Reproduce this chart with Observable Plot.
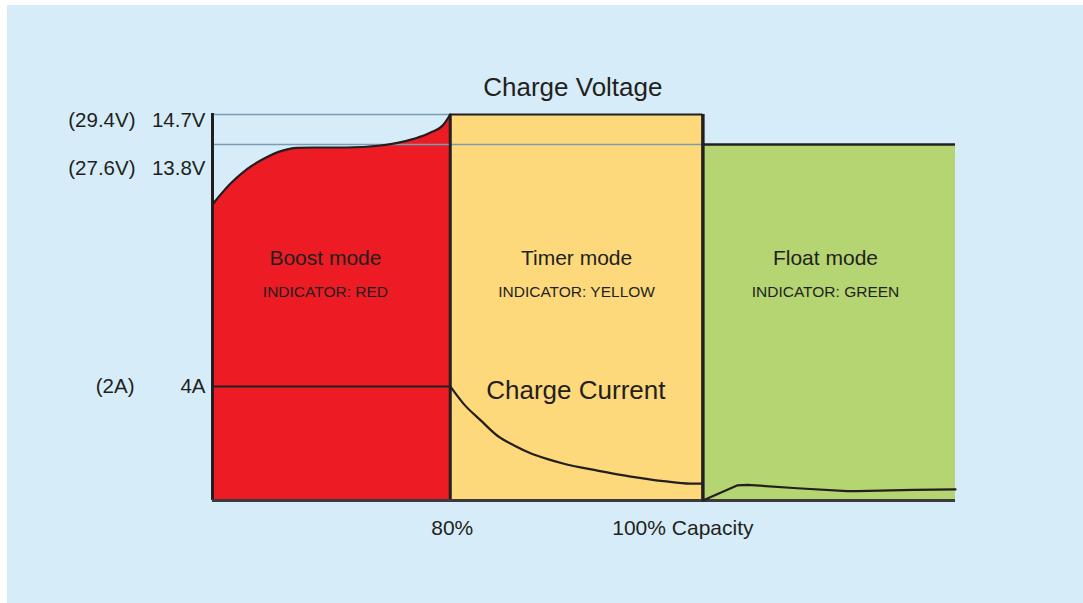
<!DOCTYPE html>
<html>
<head>
<meta charset="utf-8">
<script src="https://cdn.jsdelivr.net/npm/d3@7"></script>
<script src="https://cdn.jsdelivr.net/npm/@observablehq/plot@0.6"></script>
<style>
  html, body { margin: 0; padding: 0; background: #ffffff; }
  #wrap { position: relative; margin: 5px 0 0 7px; width: 1076px; height: 598px; background: #d6edf9; overflow: hidden; }
  #wrap svg { position: absolute; left: 0; top: 0; }
</style>
</head>
<body>
<div id="wrap"></div>
<script>
// ---- data ----
// relative charging time (0..100), phase boundaries
const phaseT = [0, 32, 66, 100];
const phaseNames = ["Boost mode", "Timer mode", "Float mode"];
const phaseIndicators = ["INDICATOR: RED", "INDICATOR: YELLOW", "INDICATOR: GREEN"];
const phaseLabelT = [15.2, 49, 82.5];
const phaseColors = ["#ed1c24", "#fdd97b", "#b5d572"];
const phaseTopV = [14.7, 14.7, 13.8];

// charge voltage (per 12V battery)
const boostT = [0, 2.4, 4.7, 6.9, 9.2, 11.4, 13.6, 18.1, 22.6, 24.9, 27.1, 29.3, 31.1, 32];
const boostV = [12.0, 12.62, 13.07, 13.37, 13.6, 13.7, 13.71, 13.71, 13.77, 13.85, 13.97, 14.15, 14.4, 14.7];
const voltTicks = [14.7, 13.8];
const voltLabels = ["14.7V", "13.8V"];
const voltLabels24 = ["(29.4V)", "(27.6V)"];

// charge current (A)
const boostCurT = [0, 32];
const boostCurA = [4, 4];
const timerCurT = [32, 33.8, 36.1, 38.3, 40.6, 42.8, 45.0, 47.3, 51.8, 56.3, 60.7, 64.3, 66];
const timerCurA = [4, 3.39, 2.81, 2.28, 1.93, 1.66, 1.46, 1.29, 1.05, 0.84, 0.68, 0.59, 0.59];
const floatCurT = [66, 70.6, 72, 78.7, 85.4, 86.8, 94.4, 100];
const floatCurA = [0, 0.53, 0.55, 0.43, 0.33, 0.33, 0.37, 0.39];
const curTicks = [4];
const curLabels = ["4A"];
const curLabels24 = ["(2A)"];

const capTicks = [32, 66];
const capLabels = ["80%", "100% Capacity"];

// ---- layout / style ----
const W = 1076, H = 598;
const mL = 205, mR = 128, mT = 109, mB = 103;
const vMin = 3.12, vMax = 14.7;
const aMax = 13.54;
const ink = "#231f20";
const grid = "#7a9db2";
const font = "'Liberation Sans', Arial, Helvetica, sans-serif";

const voltage = boostT.map((t, i) => ({t, v: boostV[i]}));
const phases = phaseNames.map((name, i) => ({name, x1: phaseT[i], x2: phaseT[i + 1], top: phaseTopV[i], color: phaseColors[i], lt: phaseLabelT[i], ind: phaseIndicators[i]}));
const cur = (T, A) => T.map((t, i) => ({t, a: A[i]}));

const common = {
  width: W, height: H,
  marginLeft: mL, marginRight: mR, marginTop: mT, marginBottom: mB,
  x: {domain: [0, 100], axis: null},
  color: {type: "identity"}
};

const voltPlot = Plot.plot({
  ...common,
  style: {background: "transparent", fontFamily: font, overflow: "visible"},
  y: {domain: [vMin, vMax], axis: null},
  marks: [
    Plot.areaY(voltage, {x: "t", y1: vMin, y2: "v", fill: phaseColors[0], curve: "monotone-x"}),
    Plot.rect(phases.slice(1), {x1: "x1", x2: "x2", y1: vMin, y2: "top", fill: "color"}),
    Plot.ruleY([vMax], {x1: phaseT[0], x2: phaseT[1], stroke: grid, strokeWidth: 1.6}),
    Plot.ruleY([phaseTopV[2]], {x1: phaseT[0], x2: phaseT[2], stroke: grid, strokeWidth: 1.6}),
    Plot.line(voltage, {x: "t", y: "v", stroke: ink, strokeWidth: 2.2, curve: "monotone-x"}),
    Plot.ruleY([phaseTopV[1]], {x1: phaseT[1], x2: phaseT[2], stroke: ink, strokeWidth: 2}),
    Plot.ruleY([phaseTopV[2]], {x1: phaseT[2], x2: phaseT[3], stroke: ink, strokeWidth: 2.5}),
    Plot.ruleX([phaseT[0]], {y1: vMin, y2: vMax + 0.03, stroke: ink, strokeWidth: 3}),
    Plot.ruleX([phaseT[1]], {y1: vMin, y2: vMax, stroke: ink, strokeWidth: 3}),
    Plot.ruleX([phaseT[2]], {y1: vMin, y2: vMax, stroke: ink, strokeWidth: 3.5}),
    Plot.ruleY([vMin], {x1: phaseT[0], x2: phaseT[3], stroke: "#3b3b3d", strokeWidth: 2.8}),
    // titles / labels
    Plot.text(["Charge Voltage"], {x: 48.5, y: 15.51, text: d => d, fontSize: 26, fill: ink}),
    Plot.text(phases, {x: "lt", y: 10.38, text: "name", fontSize: 21, fill: ink}),
    Plot.text(phases, {x: "lt", y: 9.36, text: "ind", fontSize: 15.5, fill: ink}),
    Plot.text([capLabels[0]], {x: capTicks[0], y: 2.28, text: d => d, fontSize: 21, fill: ink, dx: 2}),
    Plot.text([capLabels[1]], {x: capTicks[1], y: 2.28, text: d => d, fontSize: 21, fill: ink, dx: -20}),
    Plot.text([voltLabels[0]], {x: 0, y: voltTicks[0], text: d => d, fontSize: 20.5, fill: ink, textAnchor: "end", dx: -7, dy: 6}),
    Plot.text([voltLabels24[0]], {x: 0, y: voltTicks[0], text: d => d, fontSize: 20.5, fill: ink, textAnchor: "end", dx: -77, dy: 6}),
    Plot.text([voltLabels[1]], {x: 0, y: voltTicks[1], text: d => d, fontSize: 20.5, fill: ink, textAnchor: "end", dx: -7, dy: 24}),
    Plot.text([voltLabels24[1]], {x: 0, y: voltTicks[1], text: d => d, fontSize: 20.5, fill: ink, textAnchor: "end", dx: -77, dy: 24})
  ]
});

const curPlot = Plot.plot({
  ...common,
  style: {background: "transparent", fontFamily: font, overflow: "visible"},
  y: {domain: [0, aMax], axis: null},
  marks: [
    Plot.line(cur(boostCurT, boostCurA), {x: "t", y: "a", stroke: ink, strokeWidth: 2}),
    Plot.line(cur(timerCurT, timerCurA), {x: "t", y: "a", stroke: ink, strokeWidth: 2.2, curve: "monotone-x"}),
    Plot.line(cur(floatCurT, floatCurA), {x: "t", y: "a", stroke: ink, strokeWidth: 2.2}),
    Plot.text(["Charge Current"], {x: 48.9, y: 3.86, text: d => d, fontSize: 26, fill: ink}),
    Plot.text(curLabels, {x: 0, y: curTicks[0], text: d => d, fontSize: 20.5, fill: ink, textAnchor: "end", dx: -7}),
    Plot.text(curLabels24, {x: 0, y: curTicks[0], text: d => d, fontSize: 20.5, fill: ink, textAnchor: "end", dx: -78})
  ]
});

const wrap = document.getElementById("wrap");
wrap.appendChild(voltPlot);
wrap.appendChild(curPlot);
</script>
</body>
</html>
